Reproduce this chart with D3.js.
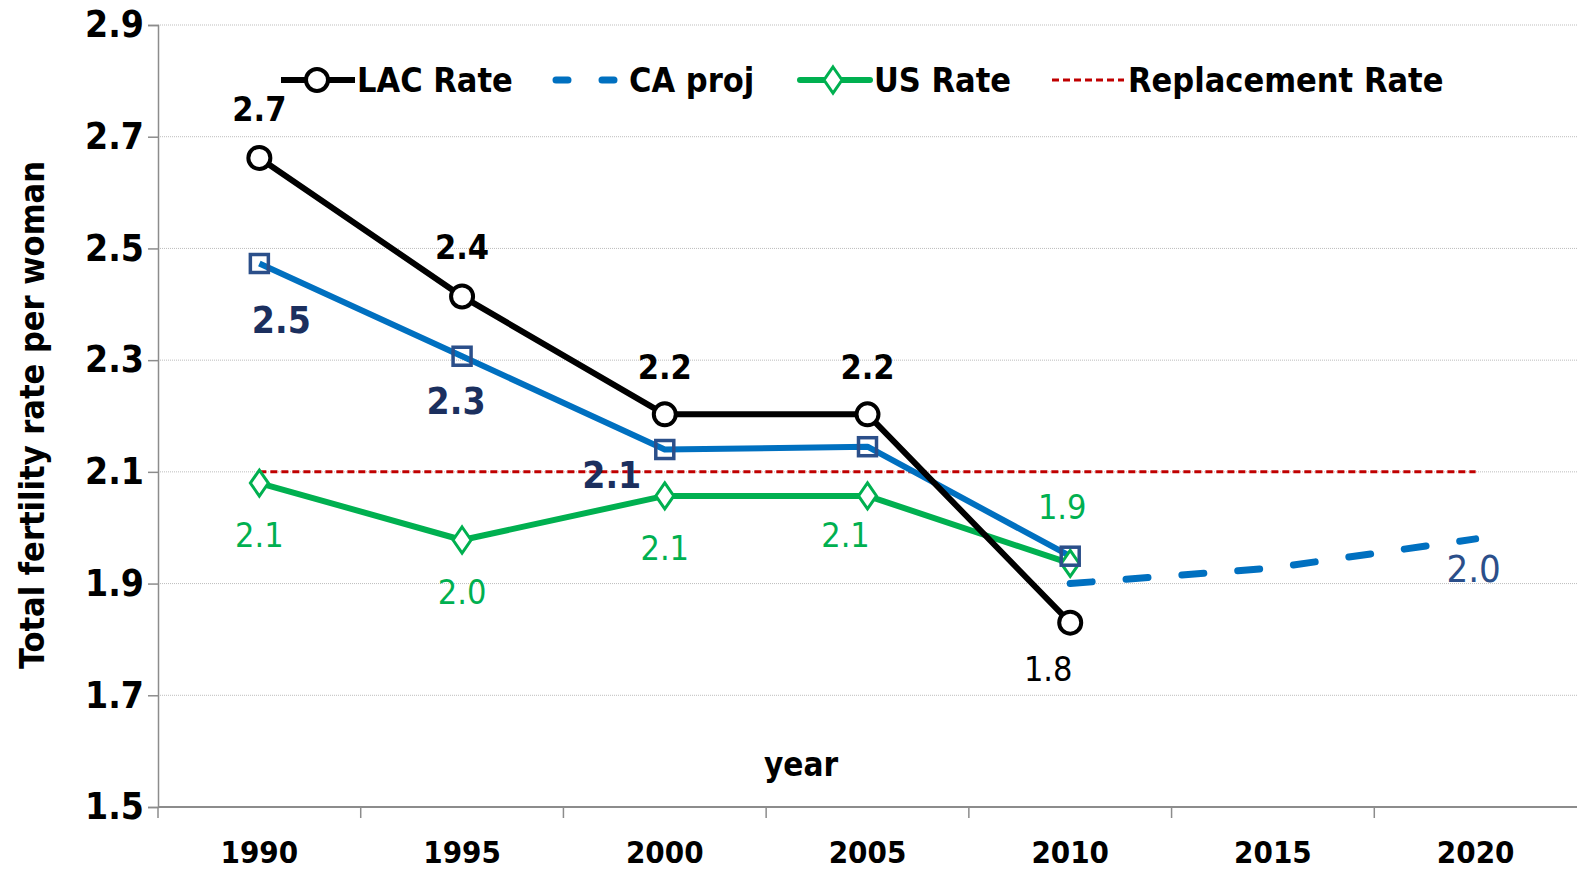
<!DOCTYPE html>
<html>
<head>
<meta charset="utf-8">
<script src="https://cdn.jsdelivr.net/npm/d3@7"></script>
<style>
  body { margin: 0; background: #fff; }
  svg text { font-family: "Liberation Sans Narrow", "DejaVu Sans Condensed", sans-serif; }
</style>
</head>
<body>
<svg id="chart" width="1577" height="871"></svg>
<script>
// categories and series
var years = ["1990", "1995", "2000", "2005", "2010", "2015", "2020"];
var lacRate = [2.662, 2.414, 2.203, 2.203, 1.830];
var caRate = [2.473, 2.307, 2.140, 2.145, 1.949];
var caProjYears = ["2010", "2015", "2020"];
var caProj = [1.900, 1.928, 1.980];
var usRate = [2.080, 1.978, 2.057, 2.057, 1.936];
var replacementRate = 2.1;
var yTicks = [1.5, 1.7, 1.9, 2.1, 2.3, 2.5, 2.7, 2.9];

var lacLabels = ["2.7", "2.4", "2.2", "2.2", "1.8"];
var caLabels = ["2.5", "2.3", "2.1"];
var usLabels = ["2.1", "2.0", "2.1", "2.1", "1.9"];

var svg = d3.select("#chart");

var x = d3.scaleBand().domain(years).range([158, 1577]);
var y = d3.scaleLinear().domain([1.5, 2.9]).range([807, 25]);
var cx = function(yr) { return x(yr) + x.bandwidth() / 2; };

// gridlines
svg.append("g").selectAll("line")
  .data(yTicks.slice(1))
  .enter().append("line")
    .attr("x1", 158).attr("x2", 1577)
    .attr("y1", d => y(d)).attr("y2", d => y(d))
    .attr("stroke", "#bdbdbd")
    .attr("stroke-width", 1)
    .attr("stroke-dasharray", "1,1");

// y axis
var yAxis = svg.append("g")
  .attr("transform", "translate(158,0)")
  .call(d3.axisLeft(y).tickValues(yTicks).tickFormat(d3.format(".1f")).tickSize(10).tickPadding(4));
yAxis.select(".domain").attr("stroke", "#8c8c8c").attr("stroke-width", 1.5);
yAxis.selectAll(".tick line").attr("stroke", "#8c8c8c").attr("stroke-width", 1.5);
yAxis.selectAll(".tick text")
  .attr("font-size", 37).attr("font-weight", "bold").attr("fill", "#000");

// x axis, ticks between categories
var xAxis = svg.append("g").attr("transform", "translate(0,807)");
xAxis.append("line")
  .attr("x1", 158).attr("x2", 1577).attr("y1", 0).attr("y2", 0)
  .attr("stroke", "#8c8c8c").attr("stroke-width", 2);
xAxis.selectAll(".tk")
  .data(years)
  .enter().append("line")
    .attr("x1", d => x(d)).attr("x2", d => x(d))
    .attr("y1", 0).attr("y2", 11)
    .attr("stroke", "#8c8c8c").attr("stroke-width", 1.5);
xAxis.selectAll(".lbl")
  .data(years)
  .enter().append("text")
    .attr("x", d => cx(d)).attr("y", 56)
    .attr("text-anchor", "middle")
    .attr("font-size", 31).attr("font-weight", "bold")
    .text(d => d);

// axis titles
svg.append("text")
  .attr("transform", "translate(44,415) rotate(-90)")
  .attr("text-anchor", "middle")
  .attr("font-size", 34).attr("font-weight", "bold")
  .text("Total fertility rate per woman");
svg.append("text")
  .attr("x", 801).attr("y", 776)
  .attr("text-anchor", "middle")
  .attr("font-size", 33).attr("font-weight", "bold")
  .text("year");

var line = d3.line().x(d => cx(d[0])).y(d => y(d[1]));

// replacement rate
svg.append("path")
  .datum([[years[0], replacementRate], [years[years.length - 1], replacementRate]])
  .attr("d", line)
  .attr("fill", "none").attr("stroke", "#c00000")
  .attr("stroke-width", 3).attr("stroke-dasharray", "7,4");

// CA projection
svg.append("path")
  .datum(caProjYears.map((d, i) => [d, caProj[i]]))
  .attr("d", line)
  .attr("fill", "none").attr("stroke", "#0070c0")
  .attr("stroke-width", 7).attr("stroke-linecap", "round")
  .attr("stroke-dasharray", "22,34");

function series(vals, color) {
  var pts = vals.map((v, i) => [years[i], v]);
  svg.append("path")
    .datum(pts).attr("d", line)
    .attr("fill", "none").attr("stroke", color)
    .attr("stroke-width", 6).attr("stroke-linejoin", "round");
  return pts;
}

var usPts = series(usRate, "#00b050");
var caPts = series(caRate, "#0070c0");
var lacPts = series(lacRate, "#000");

// markers
svg.append("g").selectAll("path")
  .data(usPts).enter().append("path")
    .attr("transform", d => "translate(" + cx(d[0]) + "," + y(d[1]) + ")")
    .attr("d", "M0,-13L9,0L0,13L-9,0Z")
    .attr("fill", "#fff").attr("stroke", "#00b050").attr("stroke-width", 3);
svg.append("g").selectAll("rect")
  .data(caPts).enter().append("rect")
    .attr("x", d => cx(d[0]) - 9).attr("y", d => y(d[1]) - 9)
    .attr("width", 18).attr("height", 18)
    .attr("fill", "none").attr("stroke", "#2b4f8a").attr("stroke-width", 3.5);
svg.append("g").selectAll("circle")
  .data(lacPts).enter().append("circle")
    .attr("cx", d => cx(d[0])).attr("cy", d => y(d[1]))
    .attr("r", 11)
    .attr("fill", "#fff").attr("stroke", "#000").attr("stroke-width", 4);

// data labels
function labels(pts, texts, dx, dy, color, weight, size) {
  svg.append("g").selectAll("text")
    .data(texts).enter().append("text")
      .attr("x", (d, i) => cx(pts[i][0]) + dx[i])
      .attr("y", (d, i) => y(pts[i][1]) + dy[i])
      .attr("text-anchor", "middle")
      .attr("font-size", size).attr("font-weight", (d, i) => weight[i])
      .attr("fill", color)
      .text(d => d);
}
labels(lacPts, lacLabels, [0, 0, 0, 0, -22], [-37, -37, -35, -35, 58],
  "#000", ["bold", "bold", "bold", "bold", "normal"], 34);
labels(caPts, caLabels, [22, -6, -53], [69, 58, 38],
  "#1b2f5e", ["bold", "bold", "bold"], 37);
labels(usPts, usLabels, [0, 0, 0, -22, -8], [64, 64, 64, 51, -44],
  "#00b050", ["normal", "normal", "normal", "normal", "normal"], 34);
svg.append("text")
  .attr("x", cx("2020") - 2).attr("y", y(caProj[2]) + 43)
  .attr("text-anchor", "middle")
  .attr("font-size", 38).attr("fill", "#2b4f8a")
  .text(caProj[2].toFixed(1));

// legend
var legend = svg.append("g").attr("transform", "translate(0,80)");
var legendItems = [
  {name: "LAC Rate", x: 357},
  {name: "CA proj", x: 629},
  {name: "US Rate", x: 874},
  {name: "Replacement Rate", x: 1128}
];
legend.append("line").attr("x1", 281).attr("x2", 355)
  .attr("stroke", "#000").attr("stroke-width", 6);
legend.append("circle").attr("cx", 317).attr("r", 11)
  .attr("fill", "#fff").attr("stroke", "#000").attr("stroke-width", 4);
legend.append("line").attr("x1", 556).attr("x2", 625)
  .attr("stroke", "#0070c0").attr("stroke-width", 7)
  .attr("stroke-linecap", "round").attr("stroke-dasharray", "12,34");
legend.append("line").attr("x1", 800).attr("x2", 870)
  .attr("stroke", "#00b050").attr("stroke-width", 6).attr("stroke-linecap", "round");
legend.append("path").attr("transform", "translate(833,0)")
  .attr("d", "M0,-13L9,0L0,13L-9,0Z")
  .attr("fill", "#fff").attr("stroke", "#00b050").attr("stroke-width", 3);
legend.append("line").attr("x1", 1052).attr("x2", 1124)
  .attr("stroke", "#c00000").attr("stroke-width", 3).attr("stroke-dasharray", "7,4");
legend.selectAll("text")
  .data(legendItems).enter().append("text")
    .attr("x", d => d.x)
    .attr("y", 12)
    .attr("font-size", 34).attr("font-weight", "bold")
    .text(d => d.name);
</script>
</body>
</html>
